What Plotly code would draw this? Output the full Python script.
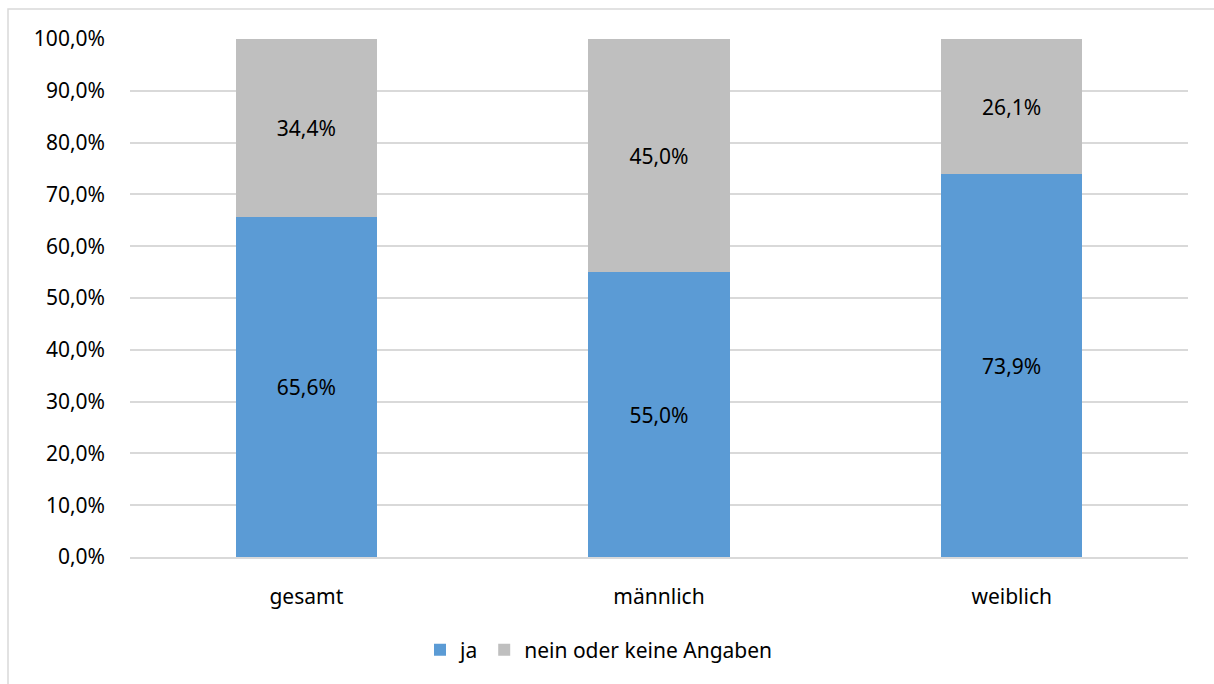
import plotly.graph_objects as go

categories = ["gesamt", "männlich", "weiblich"]
ja = [65.6, 55.0, 73.9]
nein = [34.4, 45.0, 26.1]
tick_vals = [0, 10, 20, 30, 40, 50, 60, 70, 80, 90, 100]
tick_text = [f"{v:.1f}%".replace(".", ",") for v in tick_vals]

FONT = "Noto Sans"
FS = 21
W, H = 1214, 684
L, R, T, B = 130, 26, 39, 127
pw, ph = W - L - R, H - T - B

fig = go.Figure()
fig.add_trace(go.Bar(name="ja", x=categories, y=ja, marker_color="#5B9BD5",
                     marker_line_width=0,
                     texttemplate="%{y:.1f}%", textposition="inside",
                     insidetextanchor="middle",
                     textfont=dict(color="black", size=FS, family=FONT)))
fig.add_trace(go.Bar(name="nein oder keine Angaben", x=categories, y=nein,
                     marker_color="#BFBFBF", marker_line_width=0,
                     texttemplate="%{y:.1f}%", textposition="inside",
                     insidetextanchor="middle",
                     textfont=dict(color="black", size=FS, family=FONT)))

def px_x(p):
    return (p - L) / pw

def px_y(p):
    return (H - B - p) / ph

fig.update_layout(
    width=W, height=H,
    barmode="stack", bargap=0.6,
    separators=",.",
    margin=dict(l=L, r=R, t=T, b=B),
    paper_bgcolor="white", plot_bgcolor="white",
    font=dict(family=FONT, size=FS, color="black"),
    legend=dict(orientation="h", x=px_x(420), xanchor="left",
                y=px_y(650), yanchor="middle",
                font=dict(size=FS, family=FONT), itemwidth=30,
                traceorder="normal"),
    showlegend=True,
    shapes=[dict(type="rect", xref="paper", yref="paper",
                 x0=px_x(8), x1=px_x(1240), y0=px_y(700), y1=px_y(9),
                 line=dict(color="#D9D9D9", width=1.5), layer="below")],
)
fig.update_yaxes(range=[0, 100], tickmode="array", tickvals=tick_vals,
                 ticktext=tick_text, showgrid=True, gridcolor="#D9D9D9",
                 gridwidth=1.5, zeroline=False, showline=False,
                 ticklabelstandoff=24, tickfont=dict(size=FS, family=FONT))
fig.update_xaxes(showline=True, linecolor="#D9D9D9", linewidth=2,
                 ticks="", ticklabelstandoff=20,
                 tickfont=dict(size=FS, family=FONT))

fig.write_html("out.html")
